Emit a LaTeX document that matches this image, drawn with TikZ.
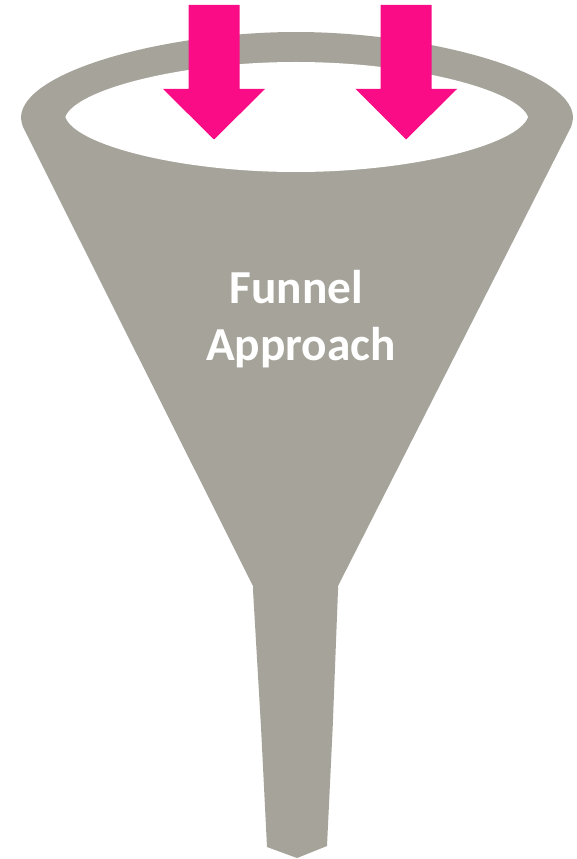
\documentclass[tikz,border=0pt]{standalone}
\usepackage{fontspec}
\setmainfont{Carlito}
\definecolor{fun}{HTML}{A6A49A}
\definecolor{pk}{HTML}{F90C86}
\tikzset{px/.style={x=0.75pt,y=-0.75pt},arrowshape/.style={fill=pk,draw=none},lbl/.style={text=white,anchor=base,font=\bfseries\fontsize{35.5}{42}\selectfont}}
\begin{document}
\begin{tikzpicture}[px]
\useasboundingbox (0,0) rectangle (576,859);
\fill[white] (0,0) rectangle (576,859);
\fill[fun] (21,117) .. controls (23,70) and (170,32) .. (296,32) .. controls (422,32) and (571,70) .. (573,117) .. controls (573,120) and (572,124) .. (571,127) -- (338,586) -- (338,590) -- (332.7,727) -- (327,846) -- (297,858) -- (267,847) -- (261,727) -- (253,590) -- (253,586) -- (23,127) .. controls (22,124) and (21,120) .. (21,117) -- cycle;
\fill[white] (65.4,117) .. controls (75,90) and (180,62) .. (296,62) .. controls (412,62) and (518,90) .. (528,117) .. controls (518,145) and (412,172) .. (296,172) .. controls (180,172) and (75,145) .. (65.4,117) -- cycle;
\fill[arrowshape] (188.5,5) -- (239.5,5) -- (239.5,89) -- (265,89) -- (214,139.5) -- (163,89) -- (188.5,89) -- cycle;
\fill[arrowshape] (380.5,5) -- (431.5,5) -- (431.5,89) -- (457,89) -- (406,139.5) -- (355.5,89) -- (380.5,89) -- cycle;
\node[lbl] (t1) at (296.5,303) {Funnel};
\node[lbl] (t2) at (301,360.5) {Approach};
\end{tikzpicture}
\end{document}
